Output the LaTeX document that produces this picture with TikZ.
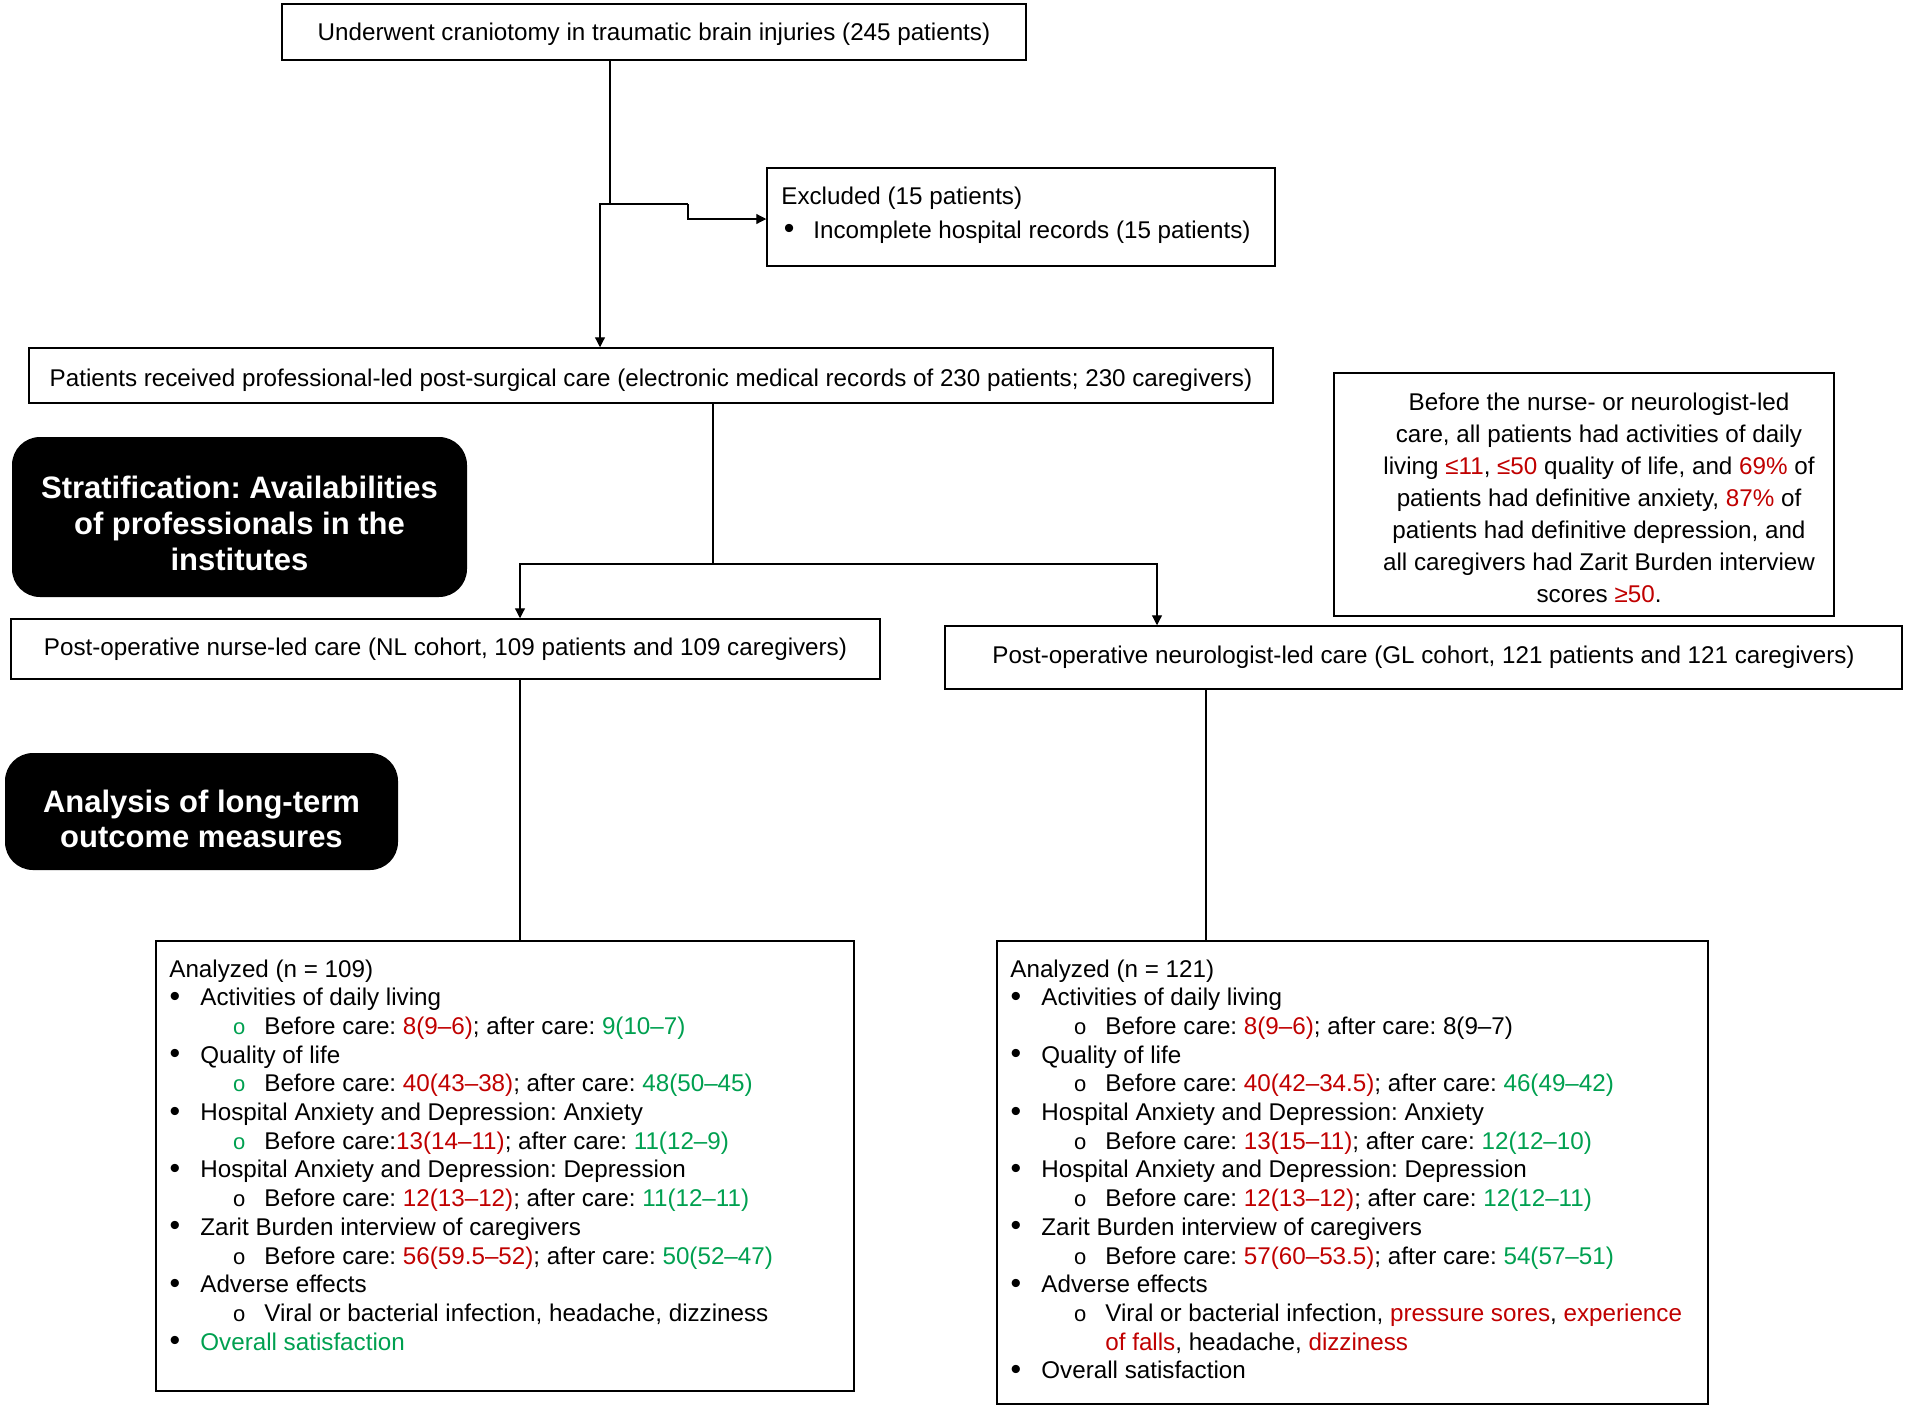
\documentclass[tikz,border=0pt]{standalone}
\usepackage{fontspec}
\setmainfont{Liberation Sans}
\usetikzlibrary{arrows.meta,calc}
\frenchspacing
\definecolor{cred}{HTML}{C00000}
\definecolor{cgreen}{HTML}{00A050}
\newcommand\R[1]{\textcolor{cred}{#1}}
\newcommand\G[1]{\textcolor{cgreen}{#1}}
\newcommand\bigbul{\raisebox{-0.3pt}{\scalebox{1.25}{•}}}
\newcommand\hdline[1]{\hbox{\hspace*{6.5pt}#1}}
\newcommand\bulA[1]{\hbox{\hspace*{6.6pt}\makebox[15.4pt][l]{\bigbul}#1}}
\newcommand\bulB[2][black]{\hbox{\hspace*{38.3pt}\makebox[15.7pt][l]{\textcolor{#1}{\fontsize{11}{12}\selectfont o}}#2}}
\newcommand\contB[1]{\hbox{\hspace*{54pt}#1}}
\newcommand\shiftdown[2]{\raisebox{-#1}[\height][\depth]{#2}}
\begin{document}
\begin{tikzpicture}[x=0.5pt,y=-0.5pt,
  box/.style={draw, line width=0.75pt, inner sep=0pt, font=\fontsize{12.1}{14.35}\selectfont},
  txt/.style={inner sep=0pt, font=\fontsize{12.1}{14.35}\selectfont},
  blk/.style={fill=black, rounded corners=14pt, inner sep=0pt},
  blktxt/.style={text=white, inner sep=0pt, align=center, font=\fontsize{15.5}{17.8}\selectfont\bfseries},
  conn/.style={line width=0.6pt},
  arr/.style={conn, -{Triangle[length=5pt,width=5pt]}},
]
\useasboundingbox (0,0) rectangle (1907,1409);

% boxes
\node[box, minimum width=372pt, minimum height=28pt] (top) at (654,32)
  {\shiftdown{1.2pt}{Underwent craniotomy in traumatic brain injuries (245 patients)}};
\node[box, minimum width=254pt, minimum height=49pt] (excl) at (1021,217) {};
\node[txt, anchor=base west] (exclT) at (781,204)
  {\vtop{\baselineskip=17pt
    \hbox{Excluded (15 patients)}
    \hbox{\hspace*{1.2pt}\makebox[14.8pt][l]{\bigbul}Incomplete hospital records (15 patients)}}};
\node[box, minimum width=622pt, minimum height=27.5pt] (main) at (651,375.5)
  {\shiftdown{2.4pt}{Patients received professional-led post-surgical care (electronic medical records of 230 patients; 230 caregivers)}};

\node[box, minimum width=250pt, minimum height=121.5pt] (note) at (1584,494.5) {};
\node[txt, align=center, font=\fontsize{12.1}{16}\selectfont] (noteT) at (1599,498)
  {Before the nurse- or neurologist-led\\
   care, all patients had activities of daily\\
   living \R{≤11}, \R{≤50} quality of life, and \R{69\%} of\\
   patients had definitive anxiety, \R{87\%} of\\
   patients had definitive depression, and\\
   all caregivers had Zarit Burden interview\\
   scores \R{≥50}.};

\node[blk, minimum width=227.5pt, minimum height=80pt] (strat) at (239.5,517) {};
\node[blktxt] (stratT) at (239.5,523.5)
  {Stratification: Availabilities\\ of professionals in the\\ institutes};

\node[box, minimum width=434.5pt, minimum height=30pt] (nl) at (445.5,649)
  {Post-operative nurse-led care (NL cohort, 109 patients and 109 caregivers)};
\node[box, minimum width=478.5pt, minimum height=31.5pt] (gl) at (1423.5,657.5)
  {Post-operative neurologist-led care (GL cohort, 121 patients and 121 caregivers)};

\node[blk, minimum width=196.5pt, minimum height=58.5pt] (anal) at (201.5,811.5) {};
\node[blktxt] (analT) at (201.5,819)
  {Analysis of long-term\\ outcome measures};

\node[box, minimum width=349pt, minimum height=225pt] (nla) at (505,1166) {};
\node[txt, anchor=base west] (nlaT) at (156,977)
  {\vtop{\baselineskip=14.35pt
    \hdline{Analyzed (n = 109)}
    \bulA{Activities of daily living}
    \bulB[cgreen]{Before care: \R{8(9–6)}; after care: \G{9(10–7)}}
    \bulA{Quality of life}
    \bulB[cgreen]{Before care: \R{40(43–38)}; after care: \G{48(50–45)}}
    \bulA{Hospital Anxiety and Depression: Anxiety}
    \bulB[cgreen]{Before care:\R{13(14–11)}; after care: \G{11(12–9)}}
    \bulA{Hospital Anxiety and Depression: Depression}
    \bulB{Before care: \R{12(13–12)}; after care: \G{11(12–11)}}
    \bulA{Zarit Burden interview of caregivers}
    \bulB{Before care: \R{56(59.5–52)}; after care: \G{50(52–47)}}
    \bulA{Adverse effects}
    \bulB{Viral or bacterial infection, headache, dizziness}
    \bulA{\G{Overall satisfaction}}}};

\node[box, minimum width=355.5pt, minimum height=231.5pt] (gla) at (1352.5,1172.5) {};
\node[txt, anchor=base west] (glaT) at (997,977)
  {\vtop{\baselineskip=14.35pt
    \hdline{Analyzed (n = 121)}
    \bulA{Activities of daily living}
    \bulB{Before care: \R{8(9–6)}; after care: 8(9–7)}
    \bulA{Quality of life}
    \bulB{Before care: \R{40(42–34.5)}; after care: \G{46(49–42)}}
    \bulA{Hospital Anxiety and Depression: Anxiety}
    \bulB{Before care: \R{13(15–11)}; after care: \G{12(12–10)}}
    \bulA{Hospital Anxiety and Depression: Depression}
    \bulB{Before care: \R{12(13–12)}; after care: \G{12(12–11)}}
    \bulA{Zarit Burden interview of caregivers}
    \bulB{Before care: \R{57(60–53.5)}; after care: \G{54(57–51)}}
    \bulA{Adverse effects}
    \bulB{Viral or bacterial infection, \R{pressure sores}, \R{experience}}
    \contB{\R{of falls}, headache, \R{dizziness}}
    \bulA{Overall satisfaction}}};

% connectors
\coordinate (t0) at (610,204);
\coordinate (t1) at (600,204);
\coordinate (t2) at (688,204);
\coordinate (t3) at (688,219);
\draw[conn] (top.south -| t0) -- (t0);
\draw[arr] (t2) -- (t1) -- (t1 |- main.north);
\draw[arr] (t2) -- (t3) -- (t3 -| excl.west);

\coordinate (s0) at (713,564);
\coordinate (s1) at (520,564);
\coordinate (s2) at (1157,564);
\draw[conn] (main.south -| s0) -- (s0);
\draw[arr] (s0) -- (s1) -- (s1 |- nl.north);
\draw[arr] (s0) -- (s2) -- (s2 |- gl.north);

\draw[conn] (nl.south -| s1) -- (s1 |- nla.north);
\coordinate (g1) at (1206,800);
\draw[conn] (gl.south -| g1) -- (g1 |- gla.north);
\end{tikzpicture}
\end{document}
